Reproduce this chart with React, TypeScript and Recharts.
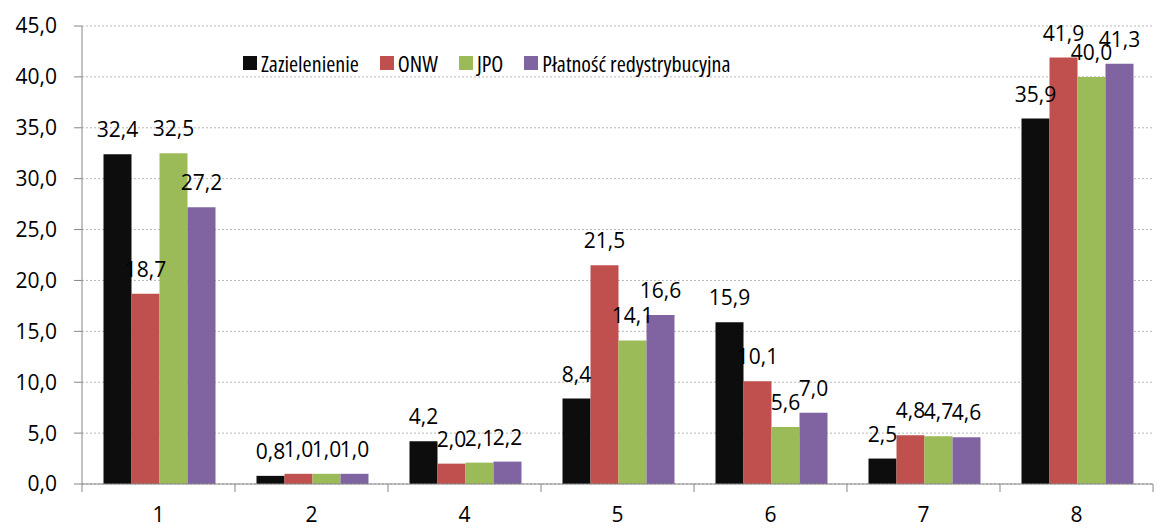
import { BarChart, Bar, XAxis, YAxis, CartesianGrid, LabelList } from 'recharts'

/* ── data ── */

const categories = ['1', '2', '4', '5', '6', '7', '8']
const zazielenienie = [32.4, 0.8, 4.2, 8.4, 15.9, 2.5, 35.9]
const onw = [18.7, 1.0, 2.0, 21.5, 10.1, 4.8, 41.9]
const jpo = [32.5, 1.0, 2.1, 14.1, 5.6, 4.7, 40.0]
const platnosc = [27.2, 1.0, 2.2, 16.6, 7.0, 4.6, 41.3]
const yTicks = [0, 5, 10, 15, 20, 25, 30, 35, 40, 45]

const series = [
  { key: 'zaz', name: 'Zazielenienie', color: '#0d0d0d', values: zazielenienie },
  { key: 'onw', name: 'ONW', color: '#c0504d', values: onw },
  { key: 'jpo', name: 'JPO', color: '#9bbb59', values: jpo },
  { key: 'pla', name: 'Płatność redystrybucyjna', color: '#8064a2', values: platnosc },
]

const data = categories.map((c, i) => {
  const row: Record<string, string | number> = { cat: c }
  series.forEach((s) => { row[s.key] = s.values[i] })
  return row
})

/* ── layout ── */

const W = 1165
const H = 528
const M = { top: 26, right: 12, bottom: 0, left: 0 }
const Y_W = 82
const X_H = 44
const PLOT_W = W - M.left - M.right - Y_W
const AXIS = '#868686'
const FONT = "'Open Sans', sans-serif"

function fmt(v: number) {
  return v.toFixed(1).replace('.', ',')
}

// Excel-style category axis: tick marks between categories, label in the middle
function CategoryTick(props: any) {
  const { x, y, payload, index } = props
  const band = PLOT_W / categories.length
  const last = index === categories.length - 1
  return (
    <g>
      <line x1={x - band / 2} x2={x - band / 2} y1={y} y2={y + 8} stroke={AXIS} />
      {last && <line x1={x + band / 2} x2={x + band / 2} y1={y} y2={y + 8} stroke={AXIS} />}
      <text x={x} y={y + 38} textAnchor="middle" fontSize={21} fill="#000" fontFamily={FONT}>
        {payload.value}
      </text>
    </g>
  )
}

function Legend() {
  return (
    <div
      style={{
        position: 'absolute', left: 243, top: 48, display: 'flex', alignItems: 'center',
        gap: 21, fontFamily: FONT, fontSize: 22, fontStretch: '82%', color: '#000', whiteSpace: 'nowrap',
      }}
    >
      {series.map((s) => (
        <span key={s.key} style={{ display: 'flex', alignItems: 'center', gap: 4 }}>
          <span style={{ width: 14, height: 14, background: s.color, display: 'inline-block' }} />
          {s.name}
        </span>
      ))}
    </div>
  )
}

export default function App() {
  return (
    <div style={{ position: 'absolute', left: 0, top: 0, width: W, height: H, background: '#fff' }}>
      <BarChart
        width={W}
        height={H}
        data={data}
        margin={M}
        barCategoryGap={21.5}
        barGap={0}
        style={{ fontFamily: FONT }}
      >
        <CartesianGrid vertical={false} stroke="#b8b8b8" strokeDasharray="2 2" />
        <XAxis
          dataKey="cat"
          height={X_H}
          axisLine={{ stroke: AXIS }}
          tickLine={false}
          tickSize={0}
          tickMargin={0}
          tick={<CategoryTick />}
          interval={0}
        />
        <YAxis
          width={Y_W}
          domain={[0, 45]}
          ticks={yTicks}
          tickFormatter={fmt}
          axisLine={{ stroke: AXIS }}
          tickLine={{ stroke: AXIS }}
          tickSize={8}
          tickMargin={17}
          tick={{ fill: '#000', fontSize: 21 }}
          interval={0}
        />
        {series.map((s) => (
          <Bar key={s.key} dataKey={s.key} name={s.name} fill={s.color} isAnimationActive={false}>
            <LabelList
              dataKey={s.key}
              position="top"
              offset={17}
              formatter={(v: any) => fmt(Number(v))}
              style={{ fill: '#000', fontSize: 21, fontFamily: FONT }}
            />
          </Bar>
        ))}
      </BarChart>
      <Legend />
    </div>
  )
}
